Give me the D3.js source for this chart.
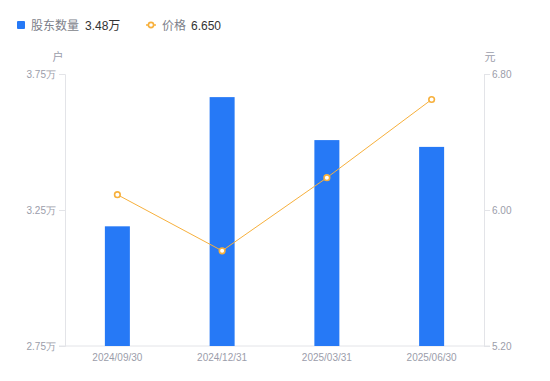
<!DOCTYPE html>
<html>
<head>
<meta charset="utf-8">
<script src="https://cdn.jsdelivr.net/npm/d3@7"></script>
<style>
  html, body { margin: 0; padding: 0; background: #fff; }
  svg { display: block; font-family: "Liberation Sans", Arial, "Noto Sans CJK SC", sans-serif; }
</style>
</head>
<body>
<svg id="chart" width="550" height="381"></svg>
<script>
const dates = ['2024/09/30', '2024/12/31', '2025/03/31', '2025/06/30'];
const holders = [3.19, 3.665, 3.507, 3.482]; // 万户
const prices = [6.09, 5.76, 6.19, 6.65];
const leftTicks = [2.75, 3.25, 3.75];
const rightTicks = [5.2, 6.0, 6.8];

const svg = d3.select('#chart');
const margin = { top: 74, right: 66, bottom: 35, left: 65 };
const width = +svg.attr('width') - margin.left - margin.right;
const height = +svg.attr('height') - margin.top - margin.bottom;
const blue = '#2679f6';
const orange = '#f7b03c';
const axisColor = '#e3e4e8';
const labelColor = '#9b9daa';

const g = svg.append('g').attr('transform', `translate(${margin.left},${margin.top})`);

const x = d3.scaleBand().domain(dates).range([0, width]);
const yL = d3.scaleLinear().domain([2.75, 3.75]).range([height, 0]);
const yR = d3.scaleLinear().domain([5.2, 6.8]).range([height, 0]);

// left axis
const axL = g.append('g').call(d3.axisLeft(yL).tickValues(leftTicks).tickSize(6).tickPadding(3).tickFormat(d => d3.format('.2f')(d) + '万'));
// right axis
const axR = g.append('g').attr('transform', `translate(${width},0)`)
  .call(d3.axisRight(yR).tickValues(rightTicks).tickSize(6).tickPadding(2).tickFormat(d3.format('.2f')));
// bottom axis
const axB = g.append('g').attr('transform', `translate(0,${height})`)
  .call(d3.axisBottom(x).tickSize(0).tickPadding(8));

[axL, axR, axB].forEach(a => {
  a.select('.domain').attr('stroke', axisColor);
  a.selectAll('.tick line').attr('stroke', axisColor);
  a.selectAll('.tick text').attr('fill', labelColor).attr('font-size', 10);
});
axB.select('.domain').attr('d', `M-6,0H${width + 6}`);

// unit labels
svg.append('text').attr('x', 58).attr('y', 61).attr('text-anchor', 'middle')
  .attr('font-size', 11).attr('fill', labelColor).text('户');
svg.append('text').attr('x', 490).attr('y', 61).attr('text-anchor', 'middle')
  .attr('font-size', 11).attr('fill', labelColor).text('元');

// bars
const barW = 25;
g.selectAll('.bar').data(dates).join('rect')
  .attr('class', 'bar')
  .attr('x', d => x(d) + x.bandwidth() / 2 - barW / 2)
  .attr('width', barW)
  .attr('y', (d, i) => yL(holders[i]))
  .attr('height', (d, i) => height - yL(holders[i]))
  .attr('fill', blue);

// price line
const line = d3.line().x((d, i) => x(dates[i]) + x.bandwidth() / 2).y(d => yR(d));
g.append('path').datum(prices)
  .attr('d', line)
  .attr('fill', 'none')
  .attr('stroke', orange)
  .attr('stroke-width', 1);
g.selectAll('.pt').data(prices).join('circle')
  .attr('class', 'pt')
  .attr('cx', (d, i) => x(dates[i]) + x.bandwidth() / 2)
  .attr('cy', d => yR(d))
  .attr('r', 2.8)
  .attr('fill', '#fff')
  .attr('stroke', orange)
  .attr('stroke-width', 1.6);

// legend
const lg = svg.append('g').attr('font-size', 12);
lg.append('rect').attr('x', 17).attr('y', 21).attr('width', 8).attr('height', 8).attr('rx', 1).attr('fill', blue);
lg.append('text').attr('x', 31).attr('y', 29.5).attr('fill', '#7d7f8a').text('股东数量');
lg.append('text').attr('x', 85).attr('y', 29.5).attr('fill', '#333').text(d3.format('.2f')(holders[3]) + '万');
lg.append('line').attr('x1', 146).attr('x2', 156).attr('y1', 25).attr('y2', 25).attr('stroke', orange).attr('stroke-width', 1.5);
lg.append('circle').attr('cx', 151).attr('cy', 25).attr('r', 2.6).attr('fill', '#fff').attr('stroke', orange).attr('stroke-width', 1.6);
lg.append('text').attr('x', 162).attr('y', 29.5).attr('fill', '#7d7f8a').text('价格');
lg.append('text').attr('x', 191).attr('y', 29.5).attr('fill', '#333').text(d3.format('.3f')(prices[3]));
</script>
</body>
</html>
